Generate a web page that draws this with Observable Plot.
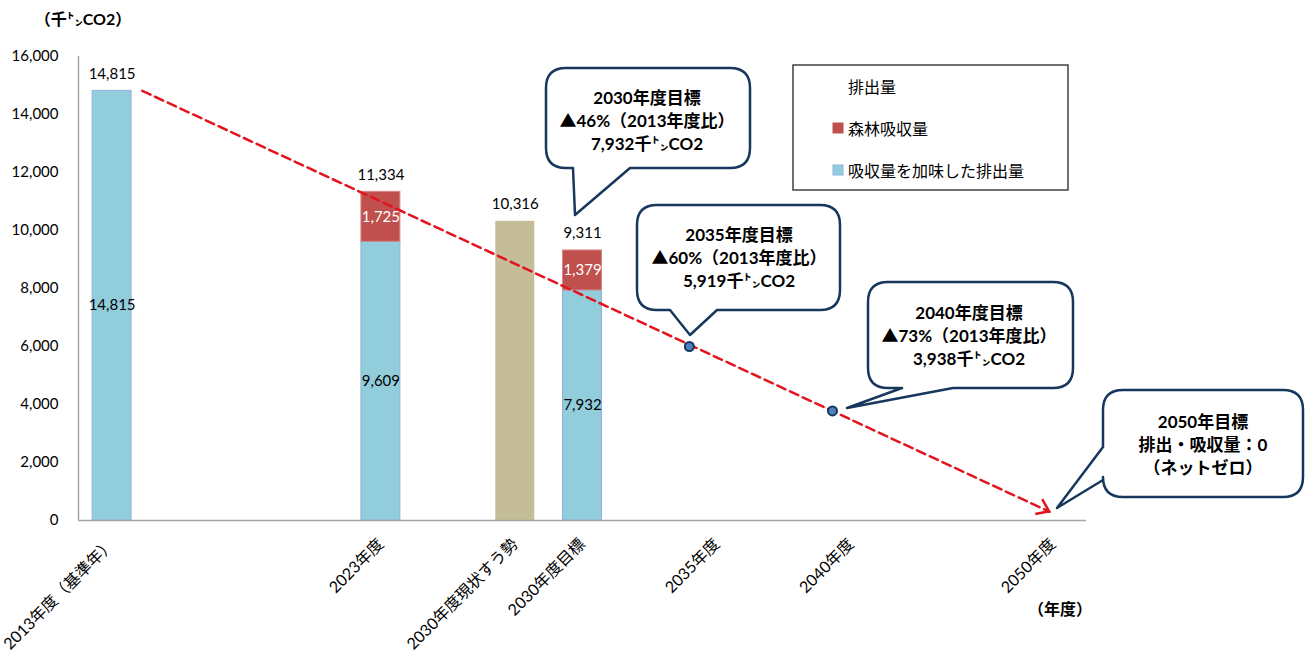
<!DOCTYPE html>
<html><head><meta charset="utf-8">
<script src="https://cdn.jsdelivr.net/npm/d3@7"></script>
<script src="https://cdn.jsdelivr.net/npm/@observablehq/plot@0.6"></script>
<style>html,body{margin:0;padding:0;background:#fff;overflow:hidden} svg{display:block}</style>
</head><body><div id="chart"></div>
<script>
// ---- data ----
const categories = ["2013年度（基準年）","2023年度","2030年度現状すう勢","2030年度目標","2035年度","2040年度","2050年度"];
const categorySlots = [0, 4, 6, 7, 9, 11, 14];   // category slot on the 15-slot axis
const slotCount = 15;
const barCategories = ["2013年度（基準年）","2023年度","2030年度現状すう勢","2030年度目標"];
const netEmissions = [14815, 9609, null, 7932];     // 吸収量を加味した排出量
const forestAbsorption = [null, 1725, null, 1379];  // 森林吸収量
const emissions = [null, null, 10316, null];        // 排出量
const totals = [14815, 11334, 10316, 9311];
const pathSlots = [0.95, 14.45];                    // target path (dashed arrow)
const pathValues = [14815, 300];
const targetSlots = [9.09, 11.22];                  // 2035 / 2040 target markers
const targetValues = [6000, 3780];
const yTicks = [0, 2000, 4000, 6000, 8000, 10000, 12000, 14000, 16000];
const legendLabels = ["排出量", "森林吸収量", "吸収量を加味した排出量"];
const bubbleTexts = [
  ["2030年度目標", "▲46%（2013年度比）", "7,932千㌧CO2"],
  ["2035年度目標", "▲60%（2013年度比）", "5,919千㌧CO2"],
  ["2040年度目標", "▲73%（2013年度比）", "3,938千㌧CO2"],
  ["2050年目標", "排出・吸収量：0", "（ネットゼロ）"]
];
const yTitle = "（千㌧CO2）";
const xTitle = "（年度）";

// ---- styles ----
const FONT = "Lato, 'Noto Sans CJK JP', sans-serif";
const BLUE = "#92cddc", BLUE_EDGE = "#8db3e2", RED = "#c0504d", RED_EDGE = "#d28a88", TAN = "#c4bd97";
const LINE_RED = "#e3141e", NAVY = "#17375e", AXIS = "#a6a6a6";
const BAR_W = 0.58;
const fmt = d3.format(",");

// ---- derived rows ----
const bars = barCategories.map((c, i) => ({c, slot: categorySlots[categories.indexOf(c)], net: netEmissions[i], forest: forestAbsorption[i], em: emissions[i], total: totals[i]}));
const blueRects = bars.filter(d => d.net != null).map(d => ({slot: d.slot, y1: 0, y2: d.net, v: d.net}));
const redRects = bars.filter(d => d.forest != null).map(d => ({slot: d.slot, y1: d.net, y2: d.net + d.forest, v: d.forest}));
const tanRects = bars.filter(d => d.em != null).map(d => ({slot: d.slot, y1: 0, y2: d.em, v: d.em}));
const pathRows = pathSlots.map((s, i) => ({s, v: pathValues[i]}));
const targetRows = targetSlots.map((s, i) => ({s, v: targetValues[i]}));
const catRows = categories.map((c, i) => ({c, slot: categorySlots[i]}));

const x1 = d => d.slot + (1 - BAR_W) / 2, x2 = d => d.slot + (1 + BAR_W) / 2, xc = d => d.slot + 0.5;

const plot = Plot.plot({
  width: 1313, height: 655,
  marginLeft: 78, marginRight: 227, marginTop: 56, marginBottom: 135,
  x: {type: "linear", domain: [0, slotCount], axis: null},
  y: {domain: [0, 16000], axis: null},
  style: {fontFamily: FONT, background: "#fff", overflow: "visible"},
  marks: [
    Plot.rect(blueRects, {x1, x2, y1: "y1", y2: "y2", fill: BLUE, stroke: BLUE_EDGE, strokeWidth: 1}),
    Plot.rect(redRects, {x1, x2, y1: "y1", y2: "y2", fill: RED, stroke: RED_EDGE, strokeWidth: 1}),
    Plot.rect(tanRects, {x1, x2, y1: "y1", y2: "y2", fill: TAN}),
    Plot.ruleX([0], {stroke: AXIS, strokeWidth: 1.5}),
    Plot.ruleY([0], {stroke: AXIS, strokeWidth: 1.5}),
    // y tick labels
    Plot.text(yTicks, {x: () => 0, y: d => d, text: d => fmt(d), textAnchor: "end", dx: -20, fontSize: 15, fill: "#000", fontFamily: FONT}),
    // x category labels
    Plot.text(catRows, {x: xc, y: () => 0, text: "c", rotate: -45, textAnchor: "end", dy: 21, fontSize: 16, fill: "#000", fontFamily: FONT}),
    // data labels
    Plot.text(bars, {x: xc, y: "total", text: d => fmt(d.total), dy: -17, fontSize: 15, fill: "#000", fontFamily: FONT}),
    Plot.text(blueRects, {x: xc, y: d => (d.y1 + d.y2) / 2, text: d => fmt(d.v), fontSize: 15, fill: "#000", fontFamily: FONT}),
    Plot.text(redRects, {x: xc, y: d => (d.y1 + d.y2) / 2, text: d => fmt(d.v), fontSize: 15, fill: "#fff", fontFamily: FONT}),
    // target path
    Plot.line(pathRows, {x: "s", y: "v", stroke: LINE_RED, strokeWidth: 2.5, strokeDasharray: "9,5"}),
    Plot.dot(targetRows, {x: "s", y: "v", r: 4.5, fill: "#4f81bd", stroke: NAVY, strokeWidth: 2})
  ]
});
document.getElementById("chart").appendChild(plot);

// ---- annotations (arrowhead, speech bubbles, legend, titles) ----
const sx = plot.scale("x"), sy = plot.scale("y");
const svg = d3.select(plot);
const g = svg.append("g").attr("font-family", FONT).attr("text-anchor", "start");

// arrowhead at end of target path
{
  const ax0 = sx.apply(pathSlots[0]), ay0 = sy.apply(pathValues[0]);
  const ax1 = sx.apply(pathSlots[1]), ay1 = sy.apply(pathValues[1]);
  const ang = Math.atan2(ay1 - ay0, ax1 - ax0), L = 14, spread = Math.PI / 5;
  const p1 = [ax1 - L * Math.cos(ang - spread), ay1 - L * Math.sin(ang - spread)];
  const p2 = [ax1 - L * Math.cos(ang + spread), ay1 - L * Math.sin(ang + spread)];
  g.append("path").attr("d", `M${p1}L${ax1},${ay1}L${p2}`).attr("fill", "none")
    .attr("stroke", LINE_RED).attr("stroke-width", 2.5).attr("stroke-linejoin", "miter");
}

// speech bubbles (pixel layout)
const bubbleLayout = [
  {box: [546, 68, 750, 168], tail: {side: "bottom", a: 573, b: 630, tip: [575, 215]}, cx: 647, y0: 97},
  {box: [637, 205, 840, 310], tail: {side: "bottom", a: 670, b: 717, tip: [690, 335]}, cx: 739, y0: 234},
  {box: [868, 282, 1073, 388], tail: {side: "bottom", a: 902, b: 953, tip: [847, 408]}, cx: 969, y0: 312},
  {box: [1103, 390, 1303, 497], tail: {side: "left", a: 447, b: 480, tip: [1057, 508]}, cx: 1203, y0: 421}
];
function bubblePath(b, r) {
  const [x0, y0, x1, y1] = b.box, t = b.tail;
  let p = `M${x0 + r},${y0}H${x1 - r}Q${x1},${y0} ${x1},${y0 + r}V${y1 - r}Q${x1},${y1} ${x1 - r},${y1}`;
  if (t.side === "bottom") p += `H${t.b}L${t.tip[0]},${t.tip[1]}L${t.a},${y1}`;
  p += `H${x0 + r}Q${x0},${y1} ${x0},${y1 - r}`;
  if (t.side === "left") p += `V${t.b}L${t.tip[0]},${t.tip[1]}L${x0},${t.a}`;
  p += `V${y0 + r}Q${x0},${y0} ${x0 + r},${y0}Z`;
  return p;
}
bubbleLayout.forEach((b, i) => {
  g.append("path").attr("d", bubblePath(b, 20)).attr("fill", "#fff")
    .attr("stroke", NAVY).attr("stroke-width", 2.5).attr("stroke-linejoin", "round");
  bubbleTexts[i].forEach((line, j) => {
    g.append("text").attr("x", b.cx).attr("y", b.y0 + j * 23).attr("text-anchor", "middle")
      .attr("dominant-baseline", "central").attr("font-size", 17).attr("font-weight", "bold")
      .attr("fill", "#000").text(line);
  });
});

// legend
{
  g.append("rect").attr("x", 793).attr("y", 65).attr("width", 275).attr("height", 125)
    .attr("fill", "#fff").attr("stroke", "#404040").attr("stroke-width", 1.5);
  const swatches = [null, {fill: RED, stroke: RED}, {fill: BLUE, stroke: BLUE_EDGE}];
  legendLabels.forEach((lab, i) => {
    const cy = 86 + i * 42;
    if (swatches[i]) g.append("rect").attr("x", 833).attr("y", cy - 5).attr("width", 10).attr("height", 10)
      .attr("fill", swatches[i].fill).attr("stroke", swatches[i].stroke).attr("stroke-width", 1);
    g.append("text").attr("x", 848).attr("y", cy).attr("text-anchor", "start").attr("dominant-baseline", "central")
      .attr("font-size", 16).attr("fill", "#000").text(lab);
  });
}

// titles
g.append("text").attr("x", 83).attr("y", 18).attr("text-anchor", "middle").attr("dominant-baseline", "central")
  .attr("font-size", 16).attr("font-weight", "bold").attr("fill", "#000").text(yTitle);
g.append("text").attr("x", 1060).attr("y", 608).attr("text-anchor", "middle").attr("dominant-baseline", "central")
  .attr("font-size", 16).attr("font-weight", "bold").attr("fill", "#000").text(xTitle);
</script>
</body></html>
